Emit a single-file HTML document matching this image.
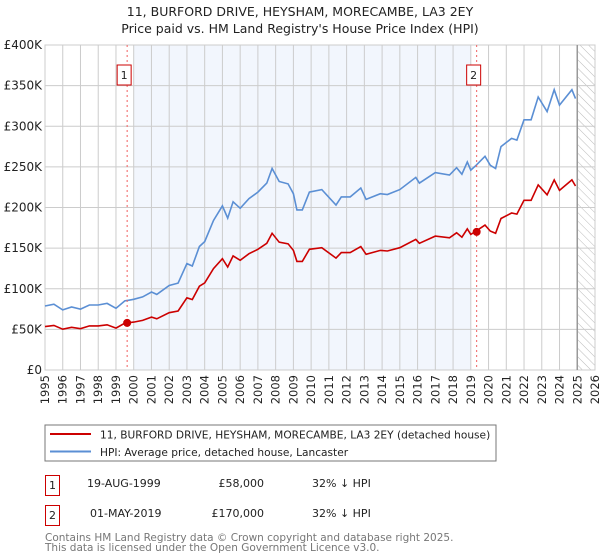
<!DOCTYPE html>
<html><head><meta charset="utf-8"><style>
body{margin:0;background:#fff}
svg{display:block;font-family:"DejaVu Sans","Liberation Sans",sans-serif}
</style></head><body>
<svg id="chart" width="600" height="560" viewBox="0 0 600 560">
<text x="300" y="16" text-anchor="middle" font-size="12.5" fill="#222">11, BURFORD DRIVE, HEYSHAM, MORECAMBE, LA3 2EY</text>
<text x="300" y="33" text-anchor="middle" font-size="12.5" fill="#222">Price paid vs. HM Land Registry's House Price Index (HPI)</text>
<defs><pattern id="hatch" width="6" height="6" patternUnits="userSpaceOnUse" patternTransform="rotate(-45)"><line x1="0" y1="0" x2="0" y2="6" stroke="#bbb" stroke-width="1"/></pattern></defs>
<g id="plot"></g>
<rect x="45" y="425" width="451" height="36" fill="#fff" stroke="#777"/>
<line x1="50" y1="434" x2="91" y2="434" stroke="#cc0000" stroke-width="2"/>
<text x="100" y="438.5" font-size="10.6" fill="#222">11, BURFORD DRIVE, HEYSHAM, MORECAMBE, LA3 2EY (detached house)</text>
<line x1="50" y1="451.5" x2="91" y2="451.5" stroke="#5b8fd4" stroke-width="2"/>
<text x="100" y="456" font-size="10.6" fill="#222">HPI: Average price, detached house, Lancaster</text>
<g font-size="11" fill="#222">
<rect x="45.5" y="475.5" width="14" height="20" fill="none" stroke="#cc0000"/>
<text x="52.5" y="489" text-anchor="middle">1</text>
<text x="87" y="487">19-AUG-1999</text>
<text x="264" y="487" text-anchor="end">£58,000</text>
<text x="312" y="487">32% ↓ HPI</text>
<rect x="45.5" y="505.5" width="14" height="20" fill="none" stroke="#cc0000"/>
<text x="52.5" y="519" text-anchor="middle">2</text>
<text x="90" y="517">01-MAY-2019</text>
<text x="264" y="517" text-anchor="end">£170,000</text>
<text x="312" y="517">32% ↓ HPI</text>
</g>
<text x="45" y="541" font-size="10.5" fill="#777">Contains HM Land Registry data © Crown copyright and database right 2025.</text>
<text x="45" y="551" font-size="10.5" fill="#777">This data is licensed under the Open Government Licence v3.0.</text>
</svg>
<script>
const hpiYears=[1995.0,1995.5,1996.0,1996.5,1997.0,1997.5,1998.0,1998.5,1999.0,1999.5,2000.0,2000.5,2001.0,2001.3,2002.0,2002.5,2003.0,2003.3,2003.7,2004.0,2004.5,2005.0,2005.3,2005.6,2006.0,2006.5,2007.0,2007.5,2007.8,2008.2,2008.7,2009.0,2009.2,2009.5,2009.9,2010.6,2011.4,2011.7,2012.2,2012.8,2013.1,2013.9,2014.3,2015.0,2015.9,2016.1,2017.0,2017.8,2018.2,2018.5,2018.8,2019.0,2019.3,2019.8,2020.1,2020.4,2020.7,2021.3,2021.6,2022.0,2022.4,2022.8,2023.3,2023.7,2024.0,2024.7,2024.9];
const hpiValues=[78.8,81,74,77.5,75,80,80,82,76,85,87,90,96,93,104,107,131,128,152,158,184,202,187,207,199,211,219,230,248,232,229,217,197,197,219,222,203,213,213,224,210,217,216,222,237,230,243,240,249,241,256,246,252,263,252,248,275,285,283,308,308,336,318,345,326,345,334];
const saleYears=[1999.63,2019.33];
const salePrices=[58,170];
const saleLabels=["1","2"];
const yTicks=[0,50,100,150,200,250,300,350,400];
const yTickLabels=["£0","£50K","£100K","£150K","£200K","£250K","£300K","£350K","£400K"];
const xTicks=[1995,1996,1997,1998,1999,2000,2001,2002,2003,2004,2005,2006,2007,2008,2009,2010,2011,2012,2013,2014,2015,2016,2017,2018,2019,2020,2021,2022,2023,2024,2025,2026];

const X0=45,X1=595,Y0=370,Y1=45;
const x=y=>X0+(y-1995)/(2026-1995)*(X1-X0);
const yv=v=>Y0-v/400*(Y0-Y1);
const NS="http://www.w3.org/2000/svg";
const g=document.getElementById('plot');
function mk(tag,attrs,parent){const e=document.createElementNS(NS,tag);for(const k in attrs)e.setAttribute(k,attrs[k]);(parent||g).appendChild(e);return e;}
function hpiAt(t){for(let i=0;i<hpiYears.length-1;i++){if(t>=hpiYears[i]&&t<=hpiYears[i+1]){const f=(t-hpiYears[i])/(hpiYears[i+1]-hpiYears[i]);return hpiValues[i]+f*(hpiValues[i+1]-hpiValues[i]);}}return hpiValues[hpiValues.length-1];}

let r=mk('rect',{x:x(2000),y:Y1,width:x(2019)-x(2000),height:Y0-Y1,fill:'#f2f6fd'});


let h=mk('rect',{x:x(2025),y:Y1,width:X1-x(2025),height:Y0-Y1,fill:'url(#hatch)'});


xTicks.forEach(t=>{const l=mk('line',{x1:x(t),x2:x(t),y1:Y1,y2:Y0,stroke:'#ccc'});


const tx=mk('text',{x:x(t)+4,y:Y0+5,transform:`rotate(-90 ${x(t)+4} ${Y0+5})`,'text-anchor':'end','font-size':'11.5',fill:'#222'});tx.textContent=t;

});
yTicks.forEach((t,i)=>{const l=mk('line',{x1:X0,x2:X1,y1:yv(t),y2:yv(t),stroke:'#ccc'});


const tx=mk('text',{x:X0-3,y:yv(t)+4,'text-anchor':'end','font-size':'12',fill:'#222'});tx.textContent=yTickLabels[i];

});
let b=mk('rect',{x:X0,y:Y1,width:X1-X0,height:Y0-Y1,fill:'none',stroke:'#ccc'});


let nl=mk('line',{x1:x(2025),x2:x(2025),y1:Y1,y2:Y0,stroke:'#999','stroke-width':1.5});



const ratio=salePrices[0]/hpiAt(saleYears[0]);
let hp=mk('path',{d:hpiYears.map((t,i)=>(i?'L':'M')+x(t).toFixed(1)+','+yv(hpiValues[i]).toFixed(1)).join(''),fill:'none',stroke:'#5b8fd4','stroke-width':1.6});


let pp=mk('path',{d:hpiYears.map((t,i)=>(i?'L':'M')+x(t).toFixed(1)+','+yv(hpiValues[i]*ratio).toFixed(1)).join(''),fill:'none',stroke:'#cc0000','stroke-width':1.6});



saleYears.forEach((t,i)=>{const l=mk('line',{x1:x(t),x2:x(t),y1:Y1,y2:Y0,stroke:'#f06060','stroke-dasharray':'2,3'});


const c=mk('circle',{cx:x(t),cy:yv(salePrices[i]),r:4,fill:'#cc0000'});


const bx=mk('rect',{x:x(t)-10,y:65,width:14,height:20,fill:'#fff',stroke:'#cc0000'});


const tx=mk('text',{x:x(t)-3,y:79,'text-anchor':'middle','font-size':'11',fill:'#222'});tx.textContent=saleLabels[i];

});
</script>
</body></html>
